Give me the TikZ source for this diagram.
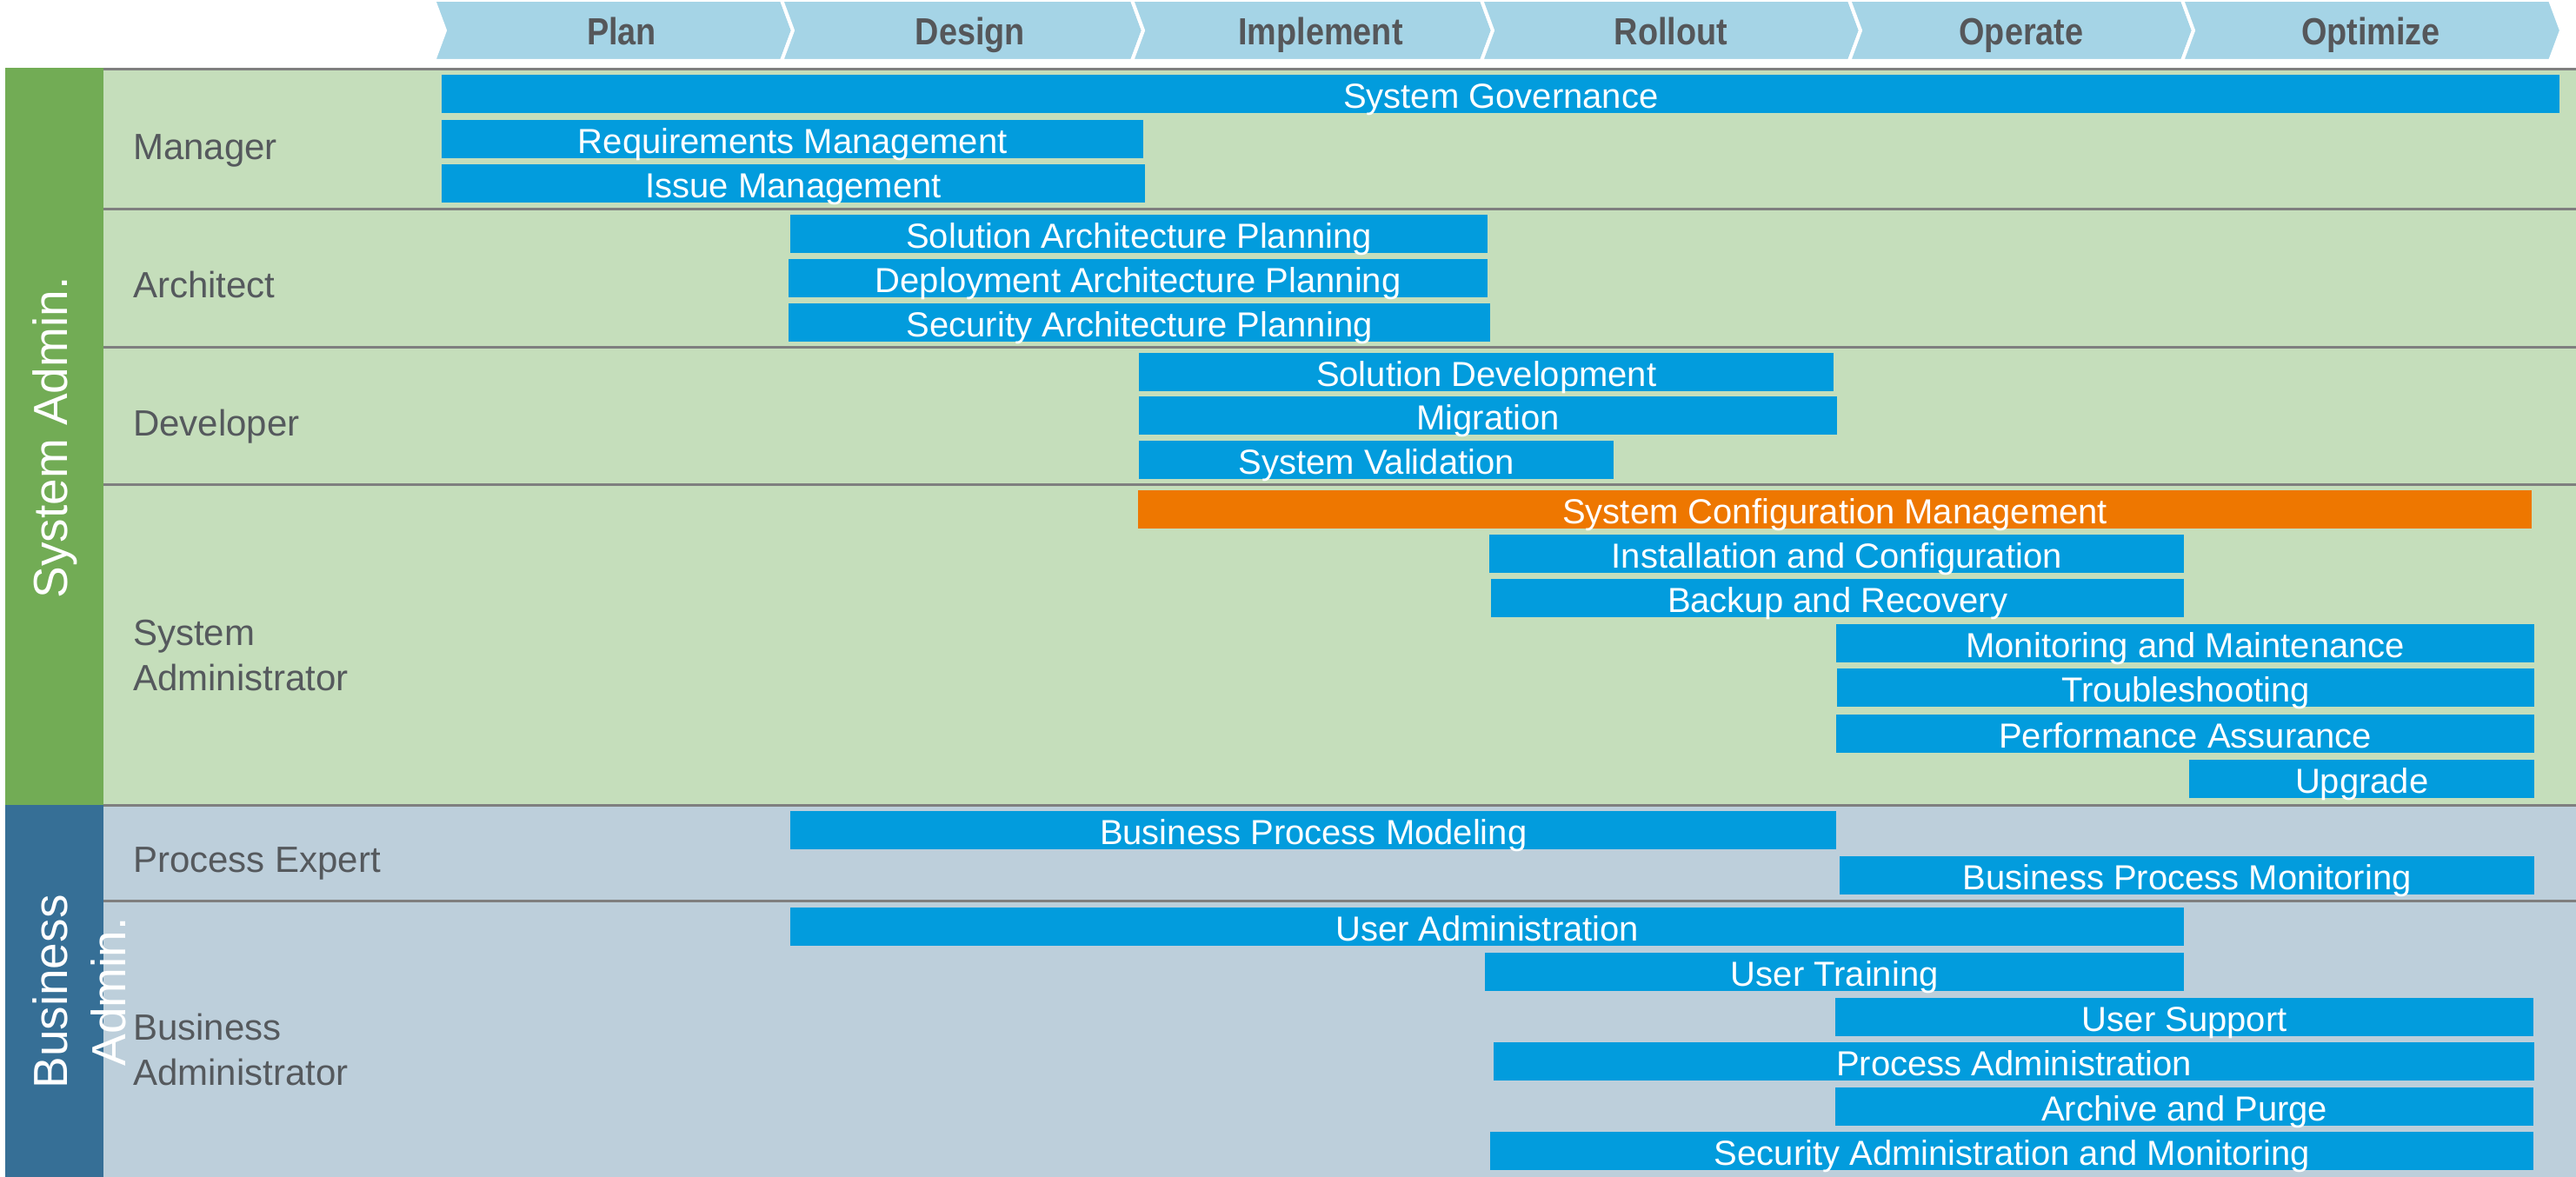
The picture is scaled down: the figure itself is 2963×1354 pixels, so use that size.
\documentclass[tikz,border=0pt]{standalone}
\usepackage{fontspec}
\setmainfont{Liberation Sans}
\newfontfamily\headfont{Liberation Sans}[FakeStretch=0.87]
\definecolor{hdr}{HTML}{A5D4E6}
\definecolor{hdrtext}{HTML}{55575A}
\definecolor{gdark}{HTML}{72AC55}
\definecolor{glight}{HTML}{C5DEBB}
\definecolor{bdark}{HTML}{366F96}
\definecolor{blight}{HTML}{BDCFDB}
\definecolor{barblue}{HTML}{029CDD}
\definecolor{barorange}{HTML}{EE7700}
\definecolor{rulegray}{HTML}{7F7F7F}
\definecolor{labeltext}{HTML}{55595D}
\tikzset{
  chev/.style={fill=hdr, draw=white, line width=4pt, line join=miter},
  headtext/.style={anchor=base, inner sep=0pt, text=hdrtext, font=\headfont\bfseries\fontsize{43.5}{50}\selectfont},
  gbar/.style={fill=barblue, text=white, inner xsep=0pt, inner ysep=0pt, text height=38pt, text depth=6pt, anchor=north west, font=\fontsize{40}{47}\selectfont},
  obar/.style={gbar, fill=barorange},
  role/.style={anchor=base west, inner sep=0pt, align=left, text=labeltext, font=\fontsize{42}{52}\selectfont},
  group/.style={anchor=base, inner sep=0pt, rotate=90, align=center, text=white, font=\fontsize{55}{67}\selectfont},
  rowrule/.style={draw=rulegray, line width=3pt}
}
\begin{document}
\begin{tikzpicture}[x=1pt, y=-1pt]
\useasboundingbox (0,0) rectangle (2963,1354);
% backgrounds
\fill[gdark] (6,78) rectangle (119,926);
\fill[bdark] (6,926) rectangle (119,1354);
\fill[glight] (119,78) rectangle (2963,926);
\fill[blight] (119,926) rectangle (2963,1354);
% rules
\foreach \yy in {79,240,399,557,926,1036} \draw[rowrule] (119,\yy) -- (2963,\yy);
% header chevrons
\foreach \L/\R in {499/899, 899/1302, 1302/1704, 1704/2127, 2127/2510, 2510/2933}
  \path[chev] (\L,0) -- (\R,0) -- (\R+13,35) -- (\R,70) -- (\L,70) -- (\L+13,35) -- cycle;
\node[headtext] (hplan) at (715,52) {Plan};
\node[headtext] (hdesign) at (1116,52) {Design};
\node[headtext] (himpl) at (1519,52) {Implement};
\node[headtext] (hroll) at (1922,52) {Rollout};
\node[headtext] (hoper) at (2325,52) {Operate};
\node[headtext] (hopt) at (2727,52) {Optimize};
% group labels
\node[group] (gsys) at (77,503.5) {System Admin.};
\node[group] (gbus) at (144,1141) {Business\\Admin.};
% role labels
\node[role] (rman) at (153,183) {Manager};
\node[role] (rarch) at (153,342) {Architect};
\node[role] (rdev) at (153,501) {Developer};
\node[role] (rsys) at (153,794) {System\\Administrator};
\node[role] (rpe) at (153,1003) {Process Expert};
\node[role] (rba) at (153,1248) {Business\\Administrator};
% Manager
\node[gbar, minimum width=2436pt] (sg) at (508,86) {System Governance};
\node[gbar, minimum width=807pt] (req) at (508,138) {Requirements Management};
\node[gbar, minimum width=809pt] (iss) at (508,189) {Issue Management};
% Architect
\node[gbar, minimum width=802pt] (sap) at (909,247) {Solution Architecture Planning};
\node[gbar, minimum width=804pt] (dap) at (907,298) {Deployment Architecture Planning};
\node[gbar, minimum width=807pt] (secap) at (907,349) {Security Architecture Planning};
% Developer
\node[gbar, minimum width=799pt] (sd) at (1310,406) {Solution Development};
\node[gbar, minimum width=803pt] (mig) at (1310,456) {Migration};
\node[gbar, minimum width=546pt] (sv) at (1310,507) {System Validation};
% System Administrator
\node[obar, minimum width=1603pt] (scm) at (1309,564) {System Configuration Management};
\node[gbar, minimum width=799pt] (ic) at (1713,615) {Installation and Configuration};
\node[gbar, minimum width=797pt] (br) at (1715,666) {Backup and Recovery};
\node[gbar, minimum width=803pt] (mm) at (2112,718) {Monitoring and Maintenance};
\node[gbar, minimum width=802pt] (ts) at (2113,769) {Troubleshooting};
\node[gbar, minimum width=803pt] (pa) at (2112,822) {Performance Assurance};
\node[gbar, minimum width=397pt] (up) at (2518,874) {Upgrade};
% Process Expert
\node[gbar, minimum width=1203pt] (bpm) at (909,933) {Business Process Modeling};
\node[gbar, minimum width=799pt] (bpmon) at (2116,985) {Business Process Monitoring};
% Business Administrator
\node[gbar, minimum width=1603pt] (ua) at (909,1044) {User Administration};
\node[gbar, minimum width=804pt] (ut) at (1708,1096) {User Training};
\node[gbar, minimum width=803pt] (us) at (2111,1148) {User Support};
\node[gbar, minimum width=1197pt] (pad) at (1718,1199) {Process Administration};
\node[gbar, minimum width=803pt] (ap) at (2111,1251) {Archive and Purge};
\node[gbar, minimum width=1200pt] (sam) at (1714,1302) {Security Administration and Monitoring};
\end{tikzpicture}
\end{document}
